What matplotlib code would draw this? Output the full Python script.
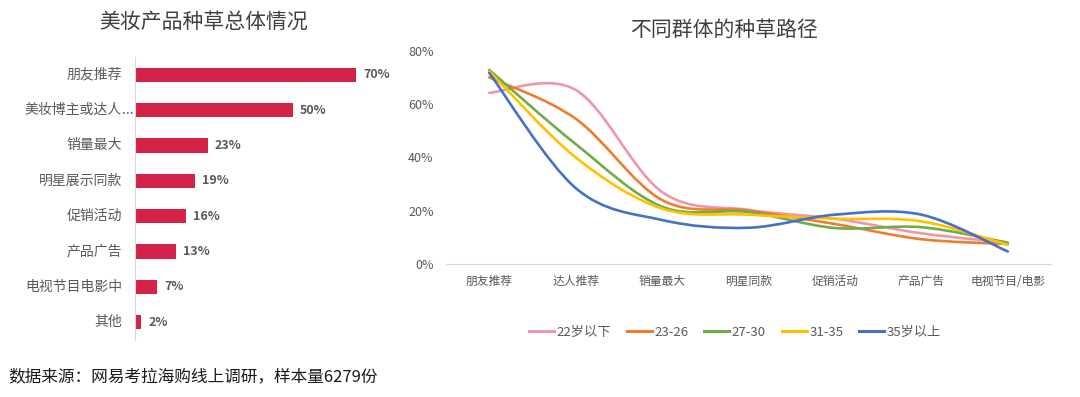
import matplotlib
matplotlib.use('Agg')
import matplotlib.pyplot as plt
import matplotlib.transforms as mtransforms
from matplotlib.path import Path
from matplotlib.patches import PathPatch
from matplotlib.lines import Line2D
import numpy as np

plt.rcParams['font.family'] = ['Noto Sans CJK SC', 'DejaVu Sans']

# ---------------- data ----------------
bar_categories = ['朋友推荐', '美妆博主或达人...', '销量最大', '明星展示同款',
                  '促销活动', '产品广告', '电视节目电影中', '其他']
bar_values = [70, 50, 23, 19, 16, 13, 7, 2]

path_categories = ['朋友推荐', '达人推荐', '销量最大', '明星同款',
                   '促销活动', '产品广告', '电视节目/电影']
group_names = ['22岁以下', '23-26', '27-30', '31-35', '35岁以上']
g_22 = [64.2, 65.3, 27.0, 20.3, 17.0, 11.5, 8.0]
g_23_26 = [70.0, 54.5, 24.0, 20.0, 15.0, 9.3, 7.5]
g_27_30 = [72.8, 45.0, 21.5, 19.5, 13.5, 13.8, 8.0]
g_31_35 = [72.3, 40.0, 20.8, 18.5, 17.0, 16.0, 7.2]
g_35 = [71.7, 28.5, 16.5, 13.6, 18.5, 18.5, 4.7]
y_ticks = [0, 20, 40, 60, 80]

source_text = '数据来源：网易考拉海购线上调研，样本量6279份'
title_left = '美妆产品种草总体情况'
title_right = '不同群体的种草路径'

# ---------------- style ----------------
bar_color = '#D42248'
line_colors = ['#EF96AA', '#ED7D31', '#70AD47', '#FFC000', '#4472C4']
gray = '#595959'
axis_gray = '#D9D9D9'

W, H = 1080, 397
fig = plt.figure(figsize=(W / 100, H / 100), dpi=100)
fig.patch.set_facecolor('white')


def px_offset(dx, dy=0):
    return mtransforms.ScaledTranslation(dx / 100, dy / 100, fig.dpi_scale_trans)


# ---------------- left: bar chart ----------------
axL = fig.add_axes([135 / W, 1 - 340 / H, 252.6 / W, 283 / H])
ypos = np.arange(len(bar_categories))
axL.barh(ypos, bar_values, height=0.4, color=bar_color)
axL.set_xlim(0, 80)
axL.set_ylim(len(bar_categories) - 0.5, -0.5)
for s in ['top', 'right', 'bottom']:
    axL.spines[s].set_visible(False)
axL.spines['left'].set_color(axis_gray)
axL.spines['left'].set_linewidth(0.8)
axL.set_xticks([])
axL.set_yticks([])

trans = mtransforms.blended_transform_factory(axL.transAxes, axL.transData)
for i, lab in enumerate(bar_categories):
    core = lab.rstrip('.')
    tail = lab[len(core):]
    axL.text(0, i, core, transform=trans + px_offset(-13), ha='right',
             va='center', fontsize=10, color=gray)
    if tail:
        axL.text(0, i, tail, transform=trans + px_offset(-13), ha='left',
                 va='center', fontsize=10, color=gray)

for i, v in enumerate(bar_values):
    axL.annotate(f'{v}%', xy=(v, i), xytext=(7, 0), textcoords='offset pixels',
                 ha='left', va='center', fontsize=9, fontweight='bold', color=gray)

fig.text(204 / W, 1 - 22 / H, title_left, ha='center', va='center',
         fontsize=15, color='#404040')

# ---------------- right: smoothed lines ----------------
axR = fig.add_axes([446 / W, 1 - 264 / H, 605 / W, 213.3 / H])
axR.set_xlim(-0.5, len(path_categories) - 0.5)
axR.set_ylim(0, 80)


def smooth_path(xs, ys):
    pts = np.column_stack([xs, ys]).astype(float)
    n = len(pts)
    verts = [pts[0]]
    codes = [Path.MOVETO]
    for i in range(n - 1):
        p0 = pts[max(i - 1, 0)]
        p1 = pts[i]
        p2 = pts[i + 1]
        p3 = pts[min(i + 2, n - 1)]
        c1 = p1 + (p2 - p0) / 6.0
        c2 = p2 - (p3 - p1) / 6.0
        verts += [c1, c2, p2]
        codes += [Path.CURVE4] * 3
    return Path(verts, codes)


series = [g_22, g_23_26, g_27_30, g_31_35, g_35]
xs = np.arange(len(path_categories))
handles = []
for vals, col, name in zip(series, line_colors, group_names):
    patch = PathPatch(smooth_path(xs, vals), fill=False, edgecolor=col,
                      linewidth=1.9, capstyle='round', joinstyle='round')
    axR.add_patch(patch)
    handles.append(Line2D([], [], color=col, linewidth=2.2, label=name))

for s in ['top', 'right', 'left']:
    axR.spines[s].set_visible(False)
axR.spines['bottom'].set_color(axis_gray)
axR.spines['bottom'].set_linewidth(0.8)
axR.set_xticks(xs)
axR.set_xticklabels(path_categories, fontsize=8.5, color=gray)
axR.set_yticks(y_ticks)
axR.set_yticklabels([f'{v}%' for v in y_ticks], fontsize=9, color=gray)
axR.tick_params(axis='x', length=0, pad=8)
axR.tick_params(axis='y', length=0, pad=9)

fig.text(724 / W, 1 - 30 / H, title_right, ha='center', va='center',
         fontsize=15, color='#404040')

leg = fig.legend(handles=handles, loc='center', bbox_to_anchor=(735 / W, 1 - 332 / H),
                 ncol=5, frameon=False, fontsize=9.5, handlelength=1.9,
                 handletextpad=0.2, columnspacing=1.2)
for t in leg.get_texts():
    t.set_color(gray)

fig.text(8 / W, 1 - 377 / H, source_text, ha='left', va='center',
         fontsize=12, color='#1a1a1a')

fig.savefig('out.png', dpi=100)
